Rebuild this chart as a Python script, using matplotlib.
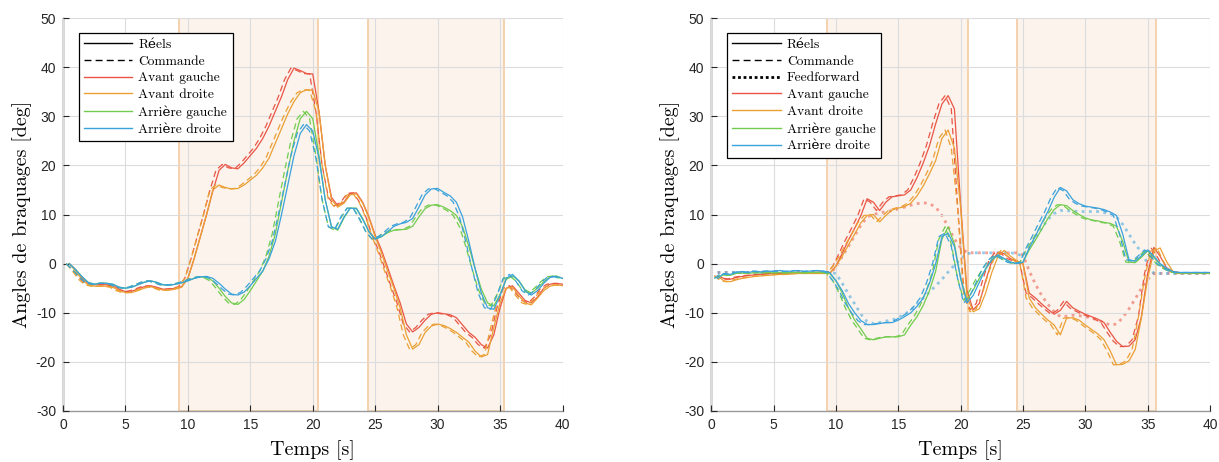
import numpy as np
import matplotlib
matplotlib.use("Agg")
import matplotlib.pyplot as plt
from matplotlib.lines import Line2D
from matplotlib.patches import Rectangle

# ---------------- data ----------------
# common time grid (s) for the measured ("Réels") signals
t_grid = np.arange(0.5, 40.01, 0.5)
# commands are read as the same curves, ~0.25 s earlier
t_cmd_left = t_grid - 0.25
t_cmd_right = t_grid - 0.25

# LEFT plot
left_avg = [0, -1.2, -2.8, -4.0, -4.3, -4.3, -4.3, -4.5, -5.2, -5.7,
            -5.6, -5.2, -4.7, -4.5, -4.8, -5.2, -5.2, -5.0, -4.7, -3.0,
            1.0, 5.5, 10.0, 14.8, 19.0, 20.2, 19.5, 19.3, 20.5, 22.0,
            23.5, 25.5, 28.0, 31.0, 34.0, 37.5, 39.8, 39.3, 38.7, 38.6,
            31.0, 20.0, 13.5, 11.8, 12.5, 14.3, 14.4, 12.5, 9.5, 5.8,
            2.8, -0.8, -4.5, -8.0, -12.3, -13.9, -13.0, -11.5, -10.3, -10.0,
            -10.2, -10.4, -11.0, -12.5, -14.0, -15.0, -16.5, -17.2, -14.5, -9.0,
            -5.0, -4.5, -6.0, -7.5, -8.0, -6.8, -5.0, -4.2, -4.0, -4.2]
left_avd = [0, -1.5, -3.2, -4.3, -4.6, -4.6, -4.6, -4.8, -5.5, -5.9,
            -5.9, -5.5, -5.0, -4.7, -5.0, -5.4, -5.4, -5.2, -4.8, -3.0,
            1.0, 5.5, 10.0, 15.0, 16.0, 15.5, 15.2, 15.3, 16.0, 17.0,
            18.0, 19.5, 21.5, 24.5, 27.5, 30.5, 33.0, 34.8, 35.4, 35.3,
            31.0, 20.0, 13.0, 11.5, 12.3, 14.0, 14.2, 12.3, 9.3, 5.5,
            2.2, -1.5, -5.0, -9.0, -14.5, -17.4, -16.5, -14.0, -12.7, -12.3,
            -12.6, -13.2, -14.0, -15.0, -16.0, -17.8, -19.0, -18.5, -13.0, -8.0,
            -5.0, -4.8, -6.5, -8.0, -8.4, -7.0, -5.5, -4.6, -4.3, -4.5]
left_arg = [0, -1.2, -2.6, -3.8, -4.2, -4.0, -4.0, -4.2, -4.8, -5.0,
            -4.8, -4.3, -3.8, -3.5, -3.8, -4.3, -4.4, -4.2, -3.9, -3.5,
            -3.0, -2.7, -2.8, -3.5, -5.0, -6.7, -8.0, -8.3, -7.3, -5.5,
            -3.5, -1.5, 1.5, 6.0, 12.5, 19.0, 25.0, 29.5, 31.0, 29.5,
            22.0, 13.0, 7.5, 6.8, 9.3, 11.3, 11.3, 9.2, 6.5, 5.0,
            5.5, 6.3, 6.8, 6.9, 7.0, 7.6, 9.5, 11.2, 11.9, 12.0,
            11.5, 10.8, 9.8, 7.5, 3.5, -1.0, -5.2, -8.0, -8.6, -6.3,
            -3.2, -2.5, -3.5, -5.3, -6.0, -5.0, -3.7, -2.7, -2.5, -3.0]
left_ard = [0, -1.2, -2.6, -3.8, -4.2, -4.0, -4.0, -4.2, -4.8, -5.0,
            -4.8, -4.3, -3.8, -3.5, -3.8, -4.3, -4.4, -4.2, -3.9, -3.5,
            -3.0, -2.7, -2.6, -3.0, -4.0, -5.2, -6.2, -6.4, -5.8, -4.5,
            -3.0, -1.5, 1.0, 4.5, 10.0, 16.0, 22.0, 26.5, 28.3, 27.0,
            21.5, 13.0, 7.5, 7.0, 9.5, 11.3, 11.2, 9.0, 6.5, 5.0,
            5.5, 6.5, 7.6, 8.1, 8.4, 9.2, 11.5, 14.0, 15.2, 15.3,
            14.5, 13.8, 12.5, 9.5, 4.5, -1.0, -6.0, -9.0, -9.3, -6.5,
            -3.0, -2.2, -3.5, -5.5, -6.4, -5.5, -4.0, -2.8, -2.6, -3.0]

# RIGHT plot
right_avg = [-2.5, -3.0, -3.2, -2.8, -2.6, -2.4, -2.3, -2.2, -2.1, -2.0,
             -2.0, -1.9, -1.9, -1.8, -1.8, -1.8, -1.8, -1.8, -2.0, -0.5,
             2.1, 4.8, 7.2, 9.8, 13.2, 12.5, 10.8, 12.5, 13.6, 13.8,
             14.0, 15.0, 17.5, 20.5, 24.0, 28.5, 32.5, 34.2, 31.5, 12.0,
             -5.4, -9.4, -8.1, -3.5, 0.5, 2.3, 2.0, 1.0, 0.5, 0.0,
             -6.0, -7.0, -8.2, -9.3, -10.3, -9.5, -7.7, -9.0, -9.7, -10.3,
             -10.8, -11.3, -12.0, -14.0, -15.8, -16.9, -16.8, -15.5, -10.8, -2.0,
             3.3, 1.5, -0.8, -1.6, -1.8, -1.9, -1.9, -1.9, -1.9, -1.9]
right_avd = [-2.5, -3.5, -3.7, -3.3, -3.0, -2.8, -2.6, -2.5, -2.4, -2.3,
             -2.2, -2.2, -2.1, -2.0, -2.0, -2.0, -2.0, -2.0, -2.0, -0.5,
             1.5, 3.8, 6.0, 8.3, 9.8, 10.0, 8.5, 9.8, 10.9, 11.3,
             11.6, 12.3, 13.8, 15.8, 18.3, 21.0, 25.5, 27.2, 23.5, 11.5,
             -6.7, -9.8, -9.2, -6.0, -1.8, 1.5, 2.7, 1.5, 0.6, 0.0,
             -7.0, -9.0, -10.3, -11.5, -12.5, -14.5, -11.1, -11.0, -11.5, -12.5,
             -13.4, -14.3, -15.5, -17.8, -20.6, -20.5, -19.8, -17.5, -11.0, -3.0,
             2.5, 3.2, 0.5, -1.5, -2.0, -2.0, -2.0, -2.0, -2.0, -2.0]
right_arg = [-3.0, -2.2, -2.4, -2.0, -1.9, -2.0, -1.8, -1.9, -1.8, -1.9,
             -1.8, -1.9, -1.8, -1.8, -1.9, -1.8, -1.8, -1.8, -2.0, -3.5,
             -6.0, -9.0, -11.5, -13.3, -15.2, -15.5, -15.2, -14.9, -14.9, -14.9,
             -14.5, -12.5, -10.8, -8.5, -5.5, -1.5, 5.0, 7.5, 4.0, -3.0,
             -7.5, -5.4, -3.0, -1.2, 0.8, 1.6, 1.0, 0.3, 0.0, 0.3,
             2.8, 4.8, 7.0, 9.2, 11.0, 12.0, 11.8, 10.8, 10.0, 9.3,
             8.9, 8.7, 8.4, 8.2, 7.6, 4.5, 0.3, 0.2, 1.3, 2.6,
             1.3, -0.2, -1.0, -1.7, -1.9, -1.9, -1.9, -1.9, -1.9, -1.9]
right_ard = [-3.0, -2.0, -2.2, -1.8, -1.6, -1.8, -1.5, -1.7, -1.5, -1.6,
             -1.4, -1.6, -1.5, -1.4, -1.6, -1.5, -1.4, -1.5, -1.8, -3.5,
             -5.5, -8.1, -10.0, -11.6, -12.4, -12.4, -12.2, -12.0, -12.0, -11.5,
             -10.8, -10.0, -8.7, -7.0, -4.0, 0.0, 5.5, 6.2, 3.5, -3.0,
             -8.0, -6.5, -3.8, -1.0, 0.8, 1.8, 1.0, 0.3, 0.0, 0.3,
             3.2, 5.6, 8.2, 10.6, 13.5, 15.5, 14.8, 13.0, 12.2, 11.7,
             11.5, 11.3, 11.0, 10.5, 9.8, 6.0, 0.8, 0.5, 1.6, 2.8,
             1.5, 0.0, -0.9, -1.6, -1.8, -1.8, -1.8, -1.8, -1.8, -1.8]
ff_front = [-1.8, -1.8, -1.8, -1.8, -1.8, -1.8, -1.8, -1.8, -1.8, -1.8,
            -1.8, -1.8, -1.8, -1.8, -1.8, -1.8, -1.8, -1.8, -1.8, -0.8,
            1.5, 3.5, 5.7, 7.8, 9.5, 10.0, 10.3, 10.6, 10.8, 11.1,
            11.5, 11.9, 12.2, 12.4, 12.2, 11.5, 9.8, 7.5, 5.0, 3.2,
            2.3, 2.2, 2.2, 2.2, 2.2, 2.2, 2.2, 2.2, 2.2, 1.8,
            -1.5, -4.2, -6.5, -8.3, -9.8, -10.8, -10.7, -10.5, -10.6, -10.8,
            -11.1, -11.5, -12.0, -12.5, -12.3, -11.0, -9.2, -7.2, -5.0, -3.2,
            -2.0, -2.0, -2.0, -2.0, -2.0, -2.0, -2.0, -2.0, -2.0, -2.0]
ff_rear = [-1.8, -1.8, -1.8, -1.8, -1.8, -1.8, -1.8, -1.8, -1.8, -1.8,
           -1.8, -1.8, -1.8, -1.8, -1.8, -1.8, -1.8, -1.8, -1.8, -2.0,
           -4.0, -6.2, -8.2, -10.3, -11.8, -12.2, -12.0, -11.7, -11.5, -11.0,
           -10.3, -9.5, -8.2, -7.0, -5.8, -4.5, -3.2, -1.7, -0.3, 1.0,
           2.0, 2.2, 2.2, 2.2, 2.2, 2.2, 2.2, 2.2, 2.0, 1.5,
           3.2, 5.2, 7.2, 9.0, 10.2, 10.8, 10.8, 10.7, 10.6, 10.6,
           10.6, 10.6, 10.4, 10.0, 9.5, 8.0, 6.0, 4.0, 2.3, 0.0,
           -2.0, -2.0, -2.0, -2.0, -2.0, -2.0, -2.0, -2.0, -2.0, -2.0]

# shaded phases (s)
phases_left = [(9.3, 20.4), (24.4, 35.3)]
phases_right = [(9.25, 20.55), (24.5, 35.7)]

labels_wheels = ["Avant gauche", "Avant droite", "Arrière gauche", "Arrière droite"]
colors = ["#EA5545", "#EBA034", "#72CC4E", "#3AA2DC"]

# ---------------- style ----------------
SERIF = ["cmr10", "DejaVu Serif"]
plt.rcParams["font.family"] = ["Liberation Sans", "DejaVu Sans"]
plt.rcParams["axes.unicode_minus"] = False

fig = plt.figure(figsize=(12.19, 4.62), dpi=100)
W, H = 1219, 462
axL = fig.add_axes([63 / W, 1 - 411 / H, 499.5 / W, 393 / H])
axR = fig.add_axes([711.3 / W, 1 - 411 / H, 498.7 / W, 393 / H])


def style_axes(ax, phases):
    ax.set_xlim(0, 40)
    ax.set_ylim(-30, 50)
    ax.set_xticks(np.arange(0, 41, 5))
    ax.set_yticks(np.arange(-30, 51, 10))
    ax.grid(True, color="#dcdcdc", lw=0.8, zorder=1)
    ax.set_axisbelow(False)
    for s in ["top", "right"]:
        ax.spines[s].set_visible(False)
    ax.spines["left"].set_color("#3a3a3a")
    ax.spines["bottom"].set_color("#9a9a9a")
    ax.spines["left"].set_linewidth(1.0)
    ax.spines["bottom"].set_linewidth(1.0)
    ax.tick_params(direction="in", length=4, width=0.8, colors="#262626",
                   labelsize=10, pad=5)
    for a, b in phases:
        ax.add_patch(Rectangle((a, -30), b - a, 80, facecolor="#FBF3EC",
                               edgecolor="#F5CFA8", lw=1.3, zorder=0.5))
    ax.set_xlabel("Temps [s]", family=SERIF, fontsize=14.5, labelpad=6)
    ax.set_ylabel("Angles de braquages [deg]", family=SERIF, fontsize=14.5,
                  labelpad=3)


style_axes(axL, phases_left)
style_axes(axR, phases_right)

lw = 0.9
dash = (5, 3)
for vals, c in zip([left_avg, left_avd, left_arg, left_ard], colors):
    axL.plot(t_grid, vals, color=c, lw=lw, zorder=3)
    axL.plot(t_cmd_left, vals, color=c, lw=lw, ls=(0, dash), zorder=3)

axR.plot(t_grid, ff_front, color=colors[0], alpha=0.55, lw=2.0, ls=(0, (1, 1.6)), zorder=2.5)
axR.plot(t_grid, ff_rear, color=colors[3], alpha=0.55, lw=2.0, ls=(0, (1, 1.6)), zorder=2.5)
for vals, c in zip([right_avg, right_avd, right_arg, right_ard], colors):
    axR.plot(t_grid, vals, color=c, lw=lw, zorder=3)
    axR.plot(t_cmd_right, vals, color=c, lw=lw, ls=(0, dash), zorder=3)

# legends
base = [Line2D([], [], color="k", lw=1.0, label="Réels"),
        Line2D([], [], color="k", lw=1.0, ls=(0, (5, 3)), label="Commande")]
wheel_h = [Line2D([], [], color=c, lw=1.0, label=l) for c, l in zip(colors, labels_wheels)]
ff_h = [Line2D([], [], color="k", lw=2.0, ls=(0, (1, 1)), label="Feedforward")]

common = dict(loc="upper left", bbox_transform=fig.transFigure, borderaxespad=0,
              fancybox=False, framealpha=1, edgecolor="black", handlelength=3.6,
              handletextpad=0.45, borderpad=0.4, labelspacing=0.32,
              prop={"family": SERIF, "size": 9.7})
legL = axL.legend(handles=base + wheel_h, bbox_to_anchor=(78.5 / W, 1 - 33 / H), **common)
legR = axR.legend(handles=base + ff_h + wheel_h, bbox_to_anchor=(727 / W, 1 - 33 / H), **common)
for lg in (legL, legR):
    lg.get_frame().set_linewidth(0.9)
    lg.set_zorder(10)

fig.savefig("out.png", dpi=100)
